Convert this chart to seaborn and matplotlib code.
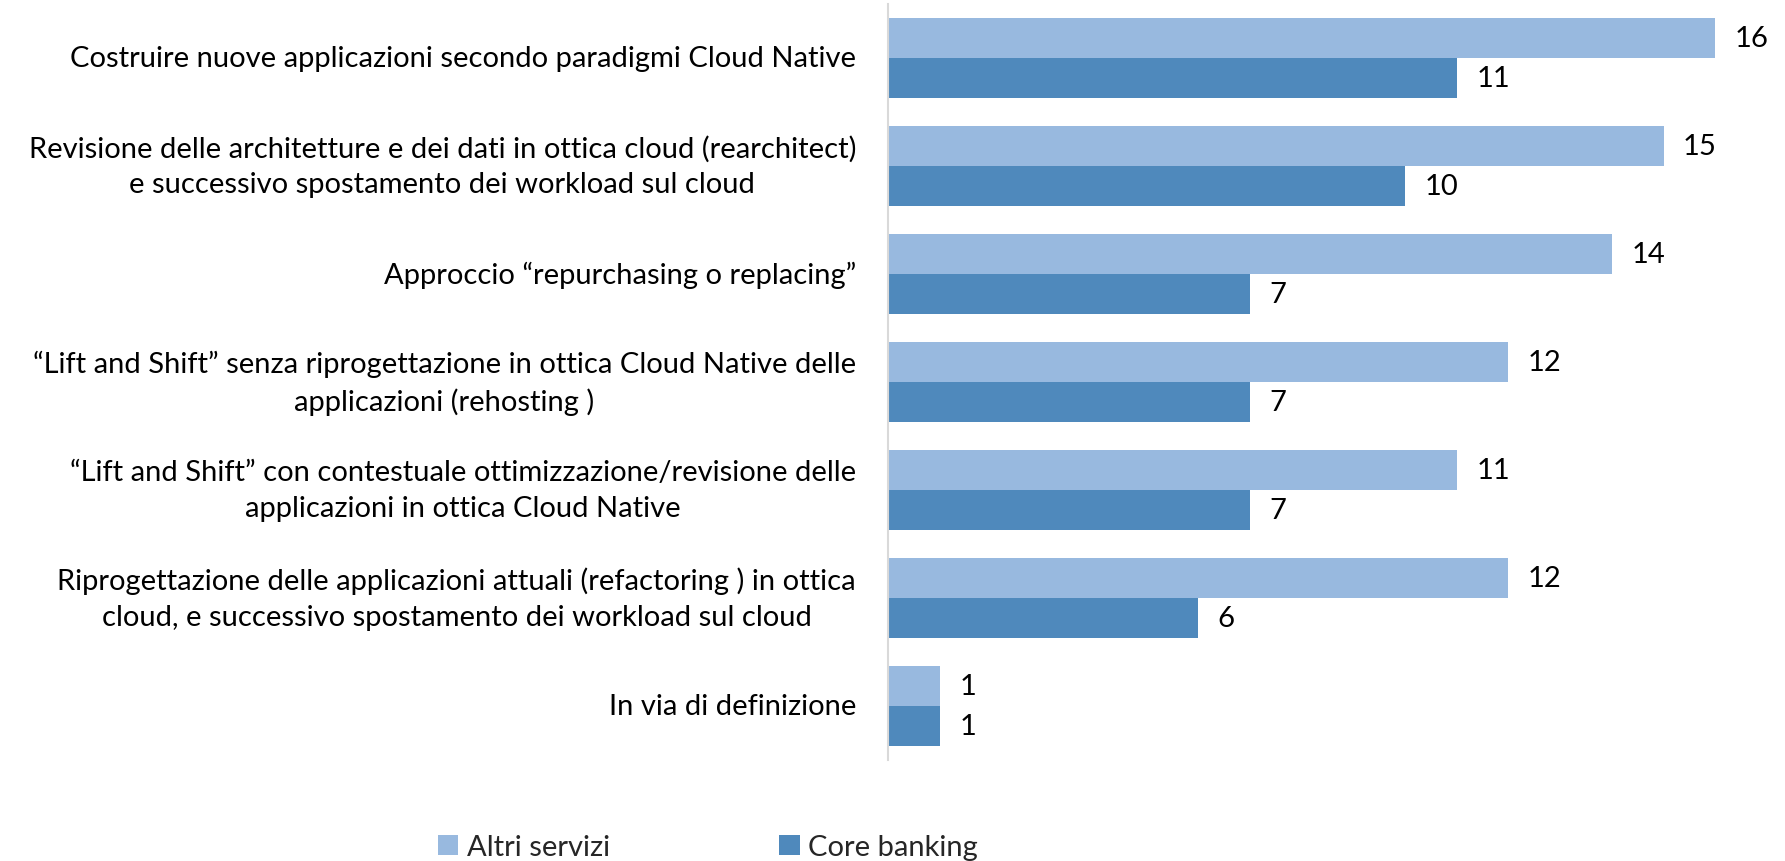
import matplotlib
matplotlib.use("Agg")
import matplotlib.pyplot as plt
import seaborn as sns
import pandas as pd
from matplotlib.patches import Patch

categories = [
    "Costruire nuove applicazioni secondo paradigmi Cloud Native",
    "Revisione delle architetture e dei dati in ottica cloud (rearchitect)\ne successivo spostamento dei workload sul cloud",
    "Approccio \u201crepurchasing o replacing\u201d",
    "\u201cLift and Shift\u201d senza riprogettazione in ottica Cloud Native delle\napplicazioni (rehosting )",
    "\u201cLift and Shift\u201d con contestuale ottimizzazione/revisione delle\napplicazioni in ottica Cloud Native",
    "Riprogettazione delle applicazioni attuali (refactoring ) in ottica\ncloud, e successivo spostamento dei workload sul cloud",
    "In via di definizione",
]
series_names = ["Altri servizi", "Core banking"]
altri_servizi = [16, 15, 14, 12, 11, 12, 1]
core_banking = [11, 10, 7, 7, 7, 6, 1]
colors = ["#98B9DF", "#4F89BC"]

df = pd.DataFrame({
    "cat": categories * 2,
    "serie": [series_names[0]] * len(categories) + [series_names[1]] * len(categories),
    "val": altri_servizi + core_banking,
})

sns.set_theme(style="white")
plt.rcParams["font.family"] = ["Lato", "DejaVu Sans"]
FS = 21

fig = plt.figure(figsize=(17.85, 8.62), dpi=100)
ax = fig.add_axes([888 / 1785, 1 - 761 / 862, 1 - 888 / 1785 - 0.015, (761 - 5) / 862])

sns.barplot(data=df, x="val", y="cat", hue="serie", order=categories,
            hue_order=series_names, palette=colors, orient="h",
            width=0.74, ax=ax, legend=False, saturation=1, edgecolor="none")

for cont in ax.containers:
    ax.bar_label(cont, fmt="%g", padding=14, fontsize=FS, color="black")

ax.set_xlim(0, 16.83)
ax.set_ylim(6.5, -0.5)
ax.set_xlabel("")
ax.set_ylabel("")
ax.set_xticks([])
ax.tick_params(axis="y", length=0, labelleft=False)
for i, cat in enumerate(categories):
    ax.annotate(cat, xy=(0, i), xycoords=("axes fraction", "data"),
                xytext=(-32, 0), textcoords="offset pixels",
                ha="right", va="center", multialignment="center",
                linespacing=1.45, fontsize=FS, color="black")
for s in ["top", "right", "bottom"]:
    ax.spines[s].set_visible(False)
ax.spines["left"].set_color("#D9D9D9")
ax.spines["left"].set_linewidth(1.5)

handles = [Patch(facecolor=c, edgecolor="none") for c in colors]
fig.legend(handles, series_names, loc="center", ncol=2,
           bbox_to_anchor=(708 / 1785, 1 - 848 / 862), frameon=False,
           fontsize=FS, handlelength=0.7, handleheight=0.7,
           handletextpad=0.3, columnspacing=5.8)

fig.savefig("out.png", dpi=100)
